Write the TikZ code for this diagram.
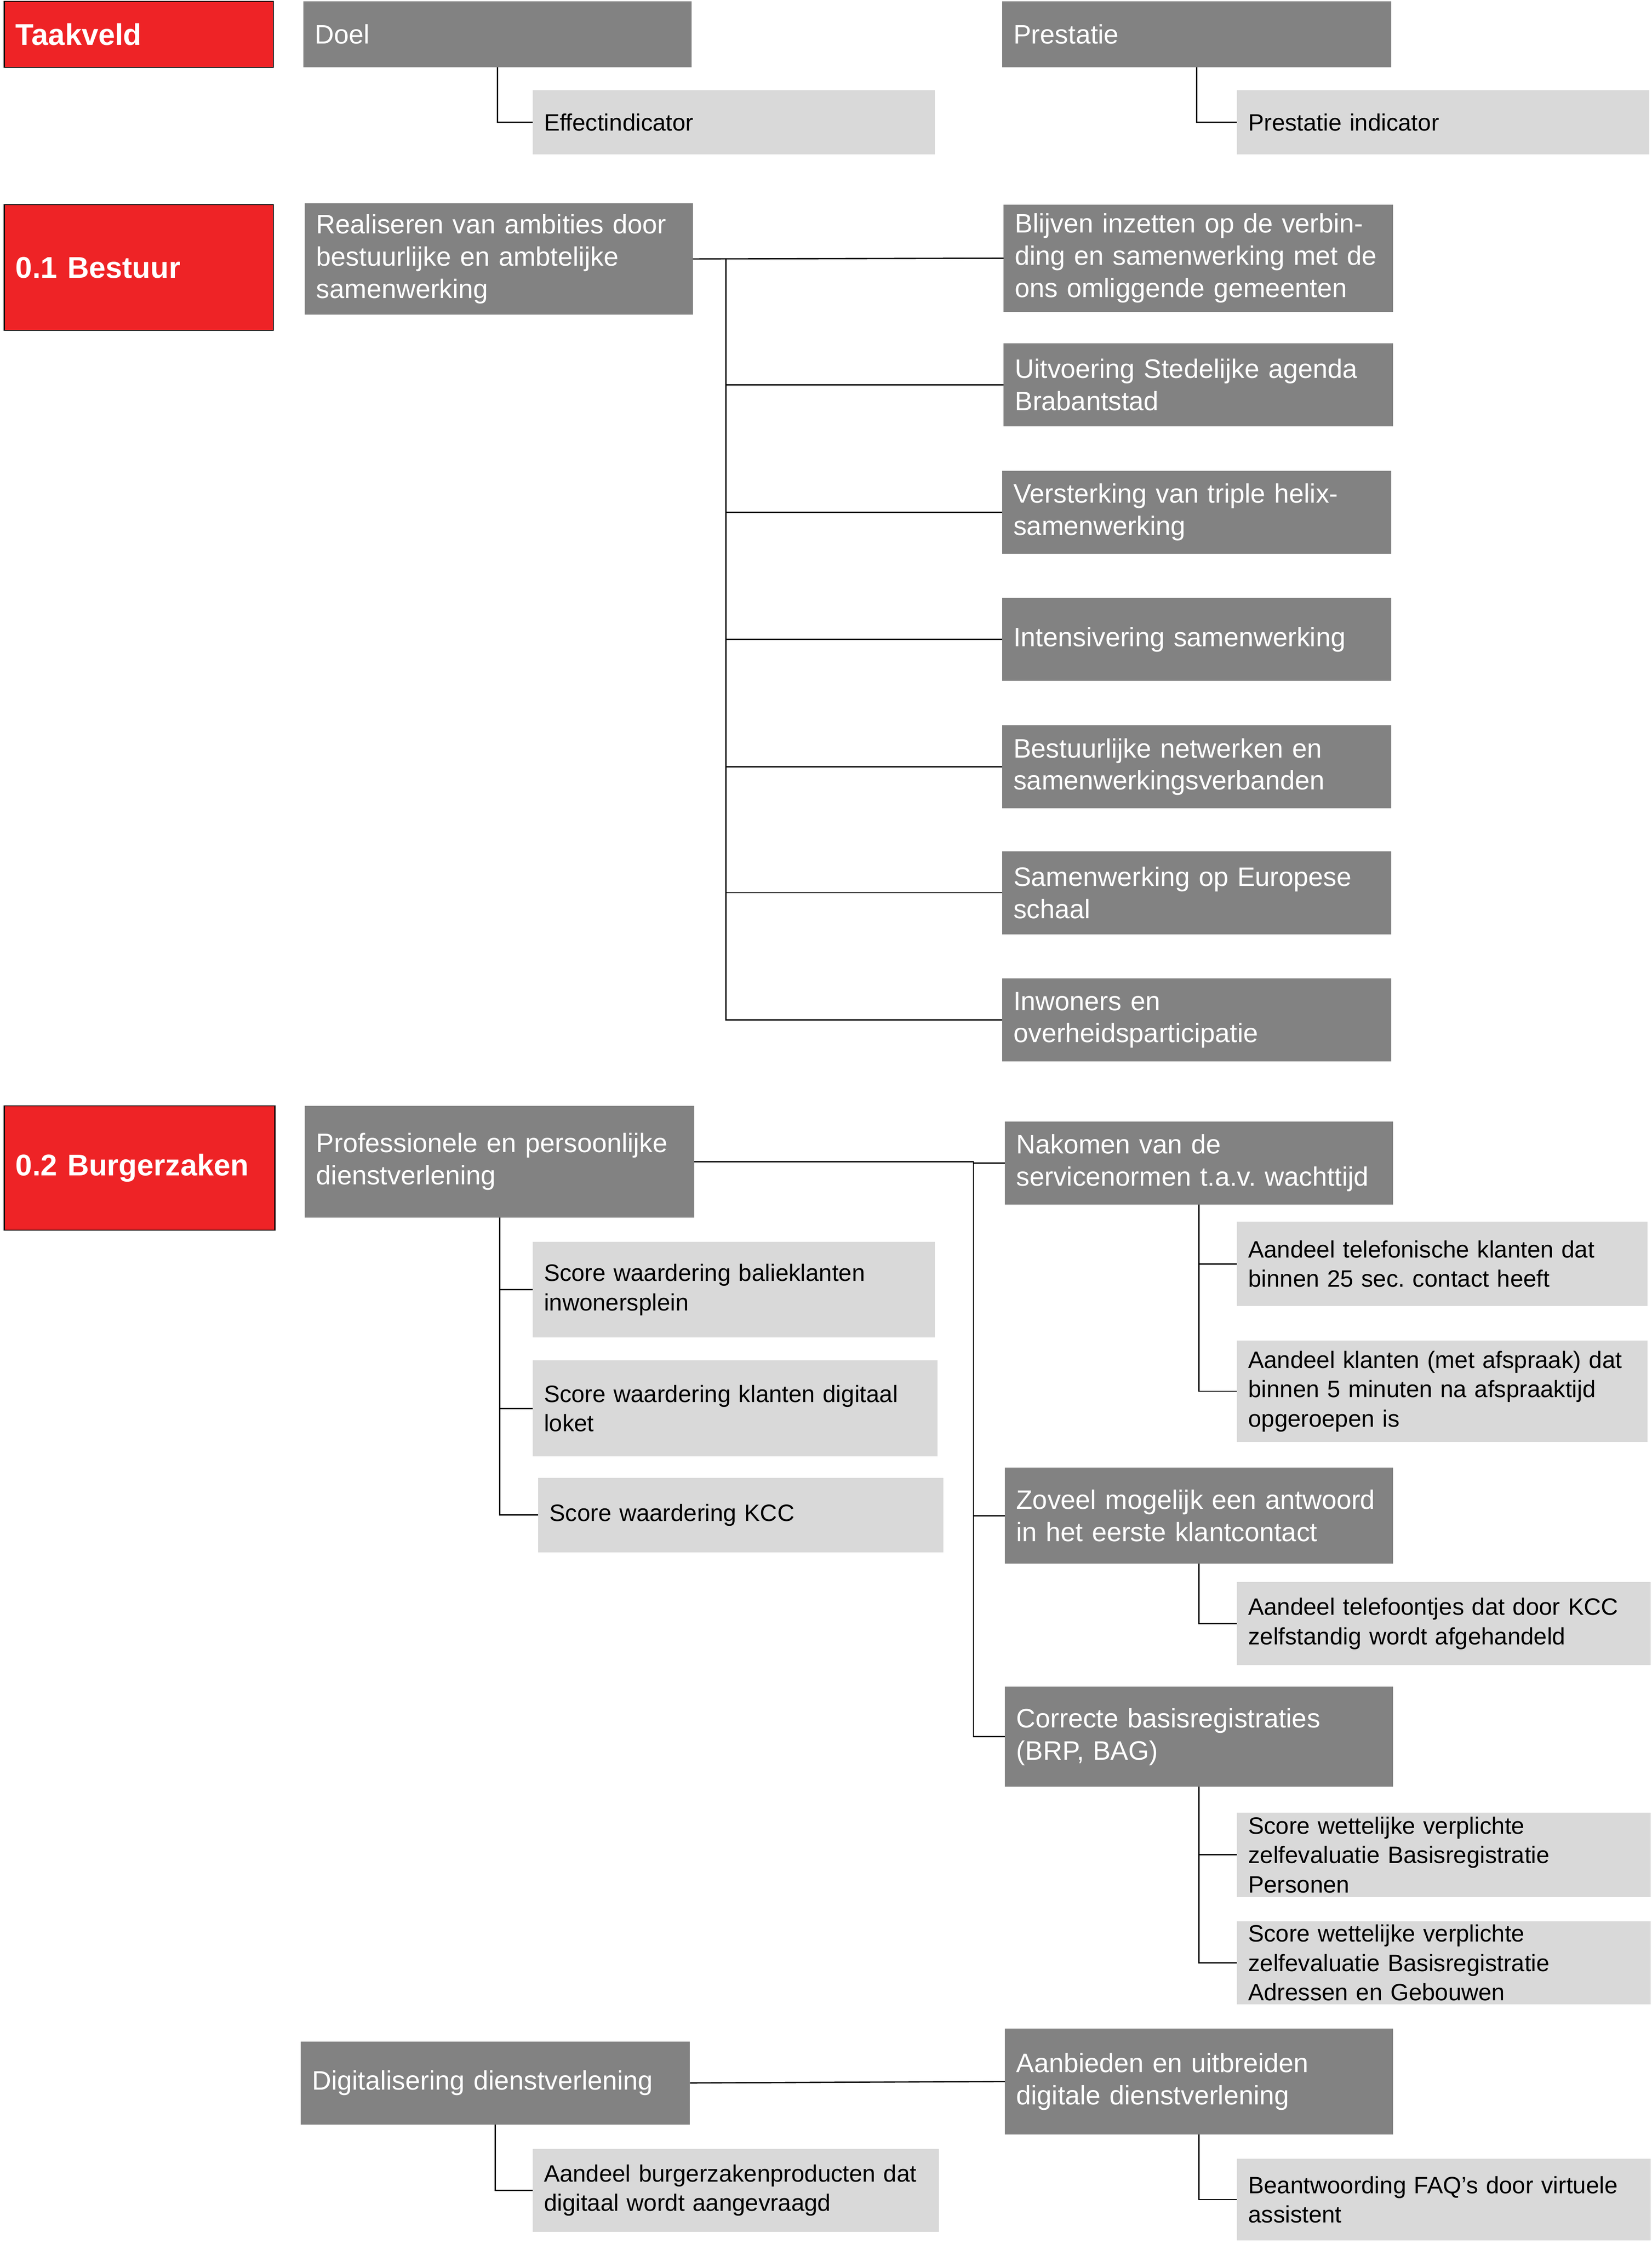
\documentclass[tikz,border=0pt]{standalone}
\usepackage{fontspec}
\setmainfont{Liberation Sans}
\frenchspacing
\definecolor{redc}{RGB}{238,35,38}
\definecolor{dkgray}{RGB}{130,130,130}
\definecolor{ltgray}{RGB}{217,217,217}
\def\sx{1.0035}
\def\sy{1.0028}
\newcommand\mybox[7]{%
  \pgfmathsetmacro\bxw{(#5-#3)*\sx}%
  \pgfmathsetmacro\bxh{(#6-#4)*\sy}%
  \pgfmathsetmacro\bxt{(#5-#3)*\sx-16}%
  \node[#2, anchor=north west, minimum width=\bxw pt, minimum height=\bxh pt, text width=\bxt pt] (#1) at (#3,#4) {#7};}
\begin{document}
\begin{tikzpicture}[x=\sx pt,y=-\sy pt,
  basebox/.style={rectangle, inner xsep=8pt, inner ysep=0pt, outer sep=0pt, align=left},
  dbox/.style={basebox, fill=dkgray, text=white, font=\fontsize{18.7}{22.6}\selectfont},
  lbox/.style={basebox, fill=ltgray, text=black, font=\fontsize{16.6}{20.6}\selectfont},
  rbox/.style={basebox, fill=redc, draw=black, line width=0.7pt, text=white, font=\fontsize{21}{25}\selectfont\bfseries},
  conn/.style={draw=black, line width=0.9pt}]
\useasboundingbox (0,0) rectangle (1154,1568.6);

% header
\mybox{tk}{rbox}{3}{1}{191}{47}{Taakveld}
\mybox{doel}{dbox}{212}{1}{483}{47}{Doel}
\mybox{eff}{lbox}{372}{63}{653}{108}{Effectindicator}
\mybox{prest}{dbox}{700}{1}{972}{47}{Prestatie}
\mybox{pind}{lbox}{864}{63}{1152}{108}{Prestatie indicator}
\draw[conn] (doel.south) |- (eff.west);
\draw[conn] (prest.south) |- (pind.west);

% 0.1 Bestuur
\mybox{b01}{rbox}{3}{143}{191}{231}{0.1 Bestuur}
\mybox{real}{dbox}{213}{142}{484}{220}{Realiseren van ambities door\\bestuurlijke en ambtelijke\\samenwerking}
\mybox{p1}{dbox}{701}{143}{973}{218}{Blijven inzetten op de verbin-\\ding en samenwerking met de\\ons omliggende gemeenten}
\mybox{p2}{dbox}{701}{240}{973}{298}{Uitvoering Stedelijke agenda\\Brabantstad}
\mybox{p3}{dbox}{700}{329}{972}{387}{Versterking van triple helix-\\samenwerking}
\mybox{p4}{dbox}{700}{418}{972}{476}{Intensivering samenwerking}
\mybox{p5}{dbox}{700}{507}{972}{565}{Bestuurlijke netwerken en\\samenwerkingsverbanden}
\mybox{p6}{dbox}{700}{595}{972}{653}{Samenwerking op Europese\\schaal}
\mybox{p7}{dbox}{700}{684}{972}{742}{Inwoners en\\overheidsparticipatie}
\coordinate (t1) at (507,181);
\draw[conn] (real.east) -- (p1.west);
\foreach \n in {2,...,7} {\draw[conn] (t1) |- (p\n.west);}

% 0.2 Burgerzaken
\mybox{b02}{rbox}{3}{773}{192}{860}{0.2 Burgerzaken}
\mybox{prof}{dbox}{213}{773}{485}{851}{Professionele en persoonlijke\\dienstverlening}
\mybox{s1}{lbox}{372}{868}{653}{935}{Score waardering balieklanten\\inwonersplein}
\mybox{s2}{lbox}{372}{951}{655}{1018}{Score waardering klanten digitaal\\loket}
\mybox{s3}{lbox}{376}{1033}{659}{1085}{Score waardering KCC}
\mybox{nak}{dbox}{702}{784}{973}{842}{Nakomen van de\\servicenormen t.a.v. wachttijd}
\mybox{a1}{lbox}{864}{854}{1151}{913}{Aandeel telefonische klanten dat\\binnen 25 sec. contact heeft}
\mybox{a2}{lbox}{864}{937}{1151}{1008}{Aandeel klanten (met afspraak) dat\\binnen 5 minuten na afspraaktijd\\opgeroepen is}
\mybox{zov}{dbox}{702}{1026}{973}{1093}{Zoveel mogelijk een antwoord\\in het eerste klantcontact}
\mybox{a3}{lbox}{864}{1106}{1153}{1164}{Aandeel telefoontjes dat door KCC\\zelfstandig wordt afgehandeld}
\mybox{cor}{dbox}{702}{1179}{973}{1249}{Correcte basisregistraties\\(BRP, BAG)}
\mybox{a4}{lbox}{864}{1267}{1153}{1326}{Score wettelijke verplichte\\zelfevaluatie Basisregistratie\\Personen}
\mybox{a5}{lbox}{864}{1343}{1153}{1401}{Score wettelijke verplichte\\zelfevaluatie Basisregistratie\\Adressen en Gebouwen}
\coordinate (t2) at (680,812);
\draw[conn] (prof.east) -- (t2) |- (nak.west);
\draw[conn] (t2) |- (zov.west);
\draw[conn] (t2) |- (cor.west);
\foreach \n in {s1,s2,s3} {\draw[conn] (prof.south) |- (\n.west);}
\foreach \n in {a1,a2} {\draw[conn] (nak.south) |- (\n.west);}
\draw[conn] (zov.south) |- (a3.west);
\foreach \n in {a4,a5} {\draw[conn] (cor.south) |- (\n.west);}

% Digitalisering
\mybox{dig}{dbox}{210}{1427}{482}{1485}{Digitalisering dienstverlening}
\mybox{a6}{lbox}{372}{1502}{656}{1560}{Aandeel burgerzakenproducten dat\\digitaal wordt aangevraagd}
\mybox{aan}{dbox}{702}{1418}{973}{1492}{Aanbieden en uitbreiden\\digitale dienstverlening}
\mybox{a7}{lbox}{864}{1509}{1153}{1566}{Beantwoording FAQ’s door virtuele\\assistent}
\draw[conn] (dig.east) -- (aan.west);
\draw[conn] (dig.south) |- (a6.west);
\draw[conn] (aan.south) |- (a7.west);
\end{tikzpicture}
\end{document}
